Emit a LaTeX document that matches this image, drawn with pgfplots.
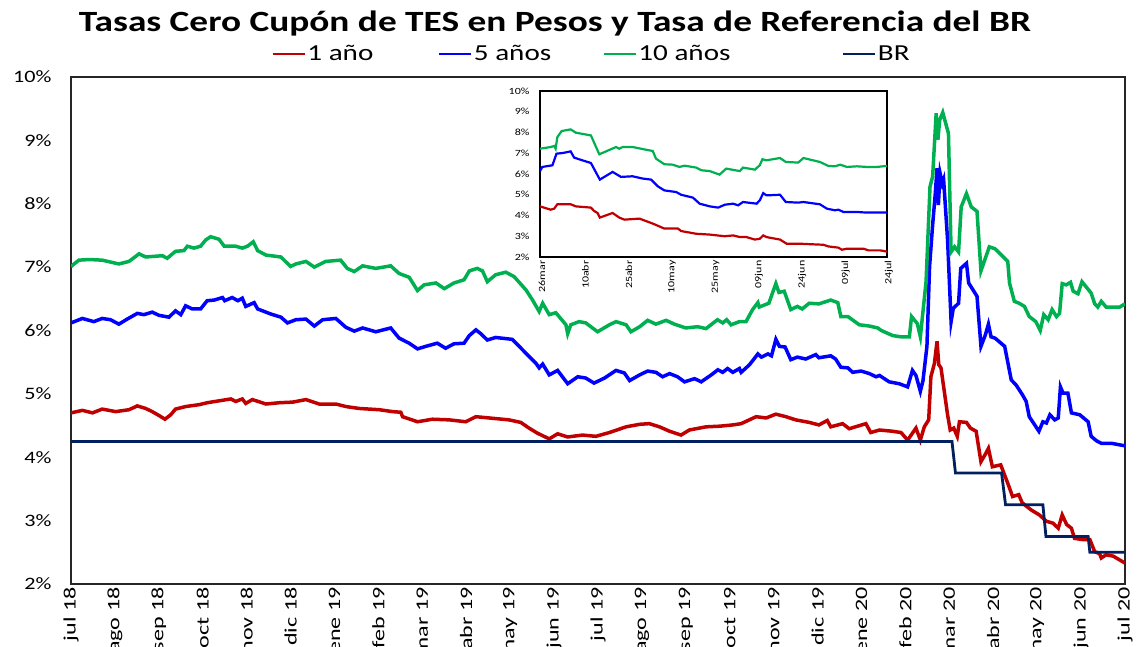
\documentclass[border=0pt]{standalone}
\usepackage{fontspec}
\setmainfont{Carlito}[FakeStretch=1.27]
\newfontfamily\xtickfont{Carlito}[FakeStretch=1.38]
\usepackage{pgfplots}
\pgfplotsset{compat=1.18}
\definecolor{cred}{RGB}{192,0,0}
\definecolor{cblue}{RGB}{0,0,255}
\definecolor{cgreen}{RGB}{0,176,80}
\definecolor{cnavy}{RGB}{0,32,96}
\begin{document}
\begin{tikzpicture}
\path (0bp,0bp) rectangle (1144bp,647bp);
\node[font=\bfseries\fontsize{29.5}{32}\selectfont, anchor=base, inner sep=0pt] at (555bp,615bp) {Tasas Cero Cupón de TES en Pesos y Tasa de Referencia del BR};
\begin{axis}[
  at={(71bp,63bp)}, anchor=south west,
  width=1054bp, height=507bp, scale only axis,
  xmin=0, xmax=24, ymin=2, ymax=10,
  xtick={0,...,24},
  xticklabels={jul 18,ago 18,sep 18,oct 18,nov 18,dic 18,ene 19,feb 19,mar 19,abr 19,may 19,jun 19,jul 19,ago 19,sep 19,oct 19,nov 19,dic 19,ene 20,feb 20,mar 20,abr 20,may 20,jun 20,jul 20},
  ytick={2,...,10},
  yticklabel={\pgfmathprintnumber{\tick}\%},
  /pgf/number format/assume math mode=true,
  tick style={draw=none},
  axis line style={black!85, line width=1.3bp},
  ticklabel style={font=\fontsize{17.5}{20}\selectfont},
  xticklabel style={rotate=90, anchor=east, overlay, font=\xtickfont\fontsize{17.5}{20}\selectfont},
  yticklabel style={xshift=-16bp},
  legend columns=4,
  legend style={at={(axis description cs:0.190,1.0454)}, anchor=west, draw=none, fill=none, inner sep=0pt,
    font=\fontsize{23}{26}\selectfont, nodes={inner sep=1.5bp},
    /tikz/every even column/.append style={column sep=0bp}},
  legend image code/.code={\draw[#1, line width=2.5bp] (0bp,0bp) -- (32bp,0bp);},
]
\addplot[cred, line width=3.5bp] table {
0 4.70
0.26 4.74
0.49 4.70
0.71 4.76
1.02 4.72
1.32 4.75
1.51 4.81
1.70 4.77
1.85 4.72
2.00 4.66
2.14 4.60
2.27 4.67
2.38 4.76
2.61 4.80
2.92 4.83
3.10 4.86
3.37 4.89
3.64 4.92
3.75 4.88
3.90 4.92
3.98 4.85
4.13 4.91
4.44 4.84
4.74 4.86
5.05 4.87
5.35 4.91
5.65 4.84
6.03 4.84
6.26 4.80
6.56 4.77
7.02 4.75
7.32 4.72
7.51 4.71
7.55 4.64
7.89 4.56
8.23 4.60
8.61 4.59
8.99 4.56
9.22 4.64
9.52 4.62
9.97 4.59
10.24 4.55
10.43 4.46
10.62 4.38
10.89 4.29
11.08 4.37
11.31 4.32
11.65 4.35
11.95 4.33
12.26 4.39
12.64 4.48
12.95 4.52
13.17 4.53
13.40 4.48
13.63 4.41
13.89 4.35
14.08 4.43
14.46 4.48
14.77 4.49
15.07 4.51
15.26 4.53
15.60 4.64
15.83 4.62
16.05 4.68
16.28 4.64
16.50 4.59
16.81 4.55
17.03 4.51
17.22 4.58
17.30 4.48
17.57 4.53
17.72 4.45
18.10 4.53
18.21 4.39
18.41 4.43
18.71 4.41
18.90 4.39
19.05 4.27
19.24 4.46
19.34 4.27
19.43 4.48
19.53 4.59
19.58 5.27
19.66 5.48
19.72 5.83
19.76 5.46
19.81 5.41
19.96 4.67
20.02 4.43
20.10 4.46
20.18 4.33
20.23 4.56
20.39 4.55
20.48 4.46
20.61 4.41
20.72 3.93
20.83 4.06
20.89 4.14
20.98 3.85
21.17 3.88
21.33 3.59
21.44 3.38
21.58 3.41
21.66 3.28
21.86 3.17
22.05 3.09
22.21 2.99
22.36 2.96
22.48 2.88
22.57 3.09
22.67 2.94
22.78 2.88
22.85 2.72
23.05 2.70
23.20 2.70
23.31 2.51
23.42 2.48
23.46 2.41
23.57 2.46
23.73 2.44
24.00 2.33
};
\addlegendentry{\makebox[129bp][l]{1 año}}
\addplot[cblue, line width=3.5bp] table {
0 6.12
0.26 6.19
0.52 6.14
0.71 6.19
0.90 6.17
1.09 6.10
1.28 6.18
1.51 6.27
1.66 6.25
1.85 6.29
2.00 6.24
2.23 6.21
2.38 6.31
2.50 6.25
2.61 6.39
2.76 6.34
2.95 6.34
3.10 6.47
3.26 6.48
3.45 6.52
3.50 6.47
3.67 6.52
3.80 6.47
3.90 6.51
3.98 6.38
4.17 6.44
4.25 6.34
4.55 6.26
4.78 6.21
4.93 6.12
5.12 6.17
5.35 6.18
5.54 6.07
5.73 6.17
6.03 6.19
6.26 6.05
6.45 5.99
6.64 6.04
6.94 5.98
7.28 6.04
7.47 5.88
7.70 5.80
7.89 5.71
8.08 5.75
8.34 5.80
8.53 5.72
8.72 5.79
8.95 5.80
9.07 5.92
9.22 6.01
9.33 5.95
9.48 5.85
9.67 5.89
10.05 5.86
10.36 5.64
10.59 5.48
10.66 5.41
10.74 5.47
10.89 5.30
11.08 5.37
11.31 5.16
11.54 5.27
11.72 5.25
11.91 5.17
12.15 5.25
12.41 5.37
12.60 5.33
12.72 5.21
12.95 5.30
13.13 5.36
13.32 5.34
13.47 5.27
13.63 5.32
13.81 5.27
13.97 5.19
14.20 5.24
14.35 5.19
14.58 5.30
14.73 5.38
14.84 5.34
14.95 5.40
15.07 5.34
15.22 5.40
15.26 5.34
15.45 5.46
15.64 5.63
15.72 5.58
15.87 5.63
15.95 5.60
16.05 5.86
16.13 5.75
16.26 5.74
16.39 5.54
16.54 5.58
16.73 5.55
16.96 5.62
17.03 5.57
17.30 5.60
17.41 5.55
17.53 5.42
17.69 5.41
17.80 5.34
17.99 5.36
18.18 5.32
18.33 5.27
18.41 5.29
18.63 5.19
18.86 5.16
19.05 5.11
19.16 5.37
19.24 5.29
19.34 5.04
19.40 5.21
19.49 5.75
19.55 7.01
19.62 7.67
19.68 8.16
19.72 8.56
19.75 7.98
19.79 8.48
19.84 8.32
19.87 8.38
19.96 7.43
20.04 6.14
20.09 6.35
20.21 6.43
20.26 6.98
20.39 7.06
20.44 6.75
20.63 6.54
20.72 5.75
20.82 5.93
20.89 6.10
20.95 5.90
21.04 5.88
21.26 5.75
21.41 5.22
21.52 5.14
21.67 4.98
21.75 4.88
21.82 4.64
22.04 4.41
22.13 4.56
22.21 4.54
22.29 4.67
22.40 4.59
22.48 4.62
22.53 5.11
22.59 5.01
22.70 5.01
22.78 4.70
22.97 4.67
23.16 4.56
23.23 4.33
23.35 4.26
23.46 4.22
23.69 4.22
24.00 4.18
};
\addlegendentry{\makebox[127bp][l]{5 años}}
\addplot[cgreen, line width=3.5bp] table {
0 7.01
0.18 7.11
0.41 7.12
0.71 7.11
1.09 7.05
1.32 7.09
1.55 7.21
1.70 7.16
2.08 7.18
2.19 7.14
2.38 7.25
2.57 7.26
2.65 7.33
2.80 7.30
2.95 7.33
3.07 7.43
3.18 7.48
3.37 7.44
3.49 7.33
3.75 7.33
3.90 7.30
4.02 7.33
4.15 7.40
4.25 7.26
4.44 7.19
4.78 7.16
5.00 7.01
5.12 7.05
5.35 7.09
5.54 7.00
5.80 7.09
6.14 7.11
6.29 6.98
6.45 6.93
6.64 7.02
6.94 6.98
7.28 7.02
7.47 6.90
7.70 6.84
7.89 6.63
8.04 6.72
8.31 6.75
8.50 6.66
8.72 6.75
8.95 6.80
9.07 6.94
9.25 6.98
9.37 6.94
9.48 6.77
9.67 6.88
9.90 6.92
10.09 6.85
10.36 6.64
10.51 6.48
10.66 6.30
10.74 6.43
10.89 6.25
11.04 6.28
11.27 6.09
11.31 5.95
11.38 6.09
11.57 6.14
11.72 6.12
11.99 5.98
12.26 6.09
12.41 6.14
12.64 6.09
12.75 5.98
12.95 6.06
13.13 6.16
13.32 6.10
13.55 6.16
13.74 6.10
14.00 6.04
14.27 6.06
14.46 6.03
14.72 6.17
14.84 6.12
14.93 6.17
15.03 6.09
15.22 6.14
15.37 6.14
15.52 6.33
15.64 6.44
15.67 6.37
15.89 6.43
16.05 6.74
16.12 6.60
16.24 6.62
16.39 6.33
16.54 6.38
16.65 6.34
16.81 6.43
17.03 6.42
17.30 6.48
17.46 6.44
17.53 6.22
17.69 6.22
17.95 6.09
18.18 6.07
18.37 6.04
18.45 6.00
18.71 5.92
18.90 5.90
19.09 5.90
19.14 6.22
19.27 6.11
19.34 5.90
19.47 6.77
19.56 8.27
19.62 8.43
19.70 9.43
19.74 9.01
19.78 9.32
19.85 9.44
19.98 9.11
20.04 7.24
20.12 7.32
20.21 7.24
20.27 7.95
20.39 8.16
20.50 7.95
20.63 7.88
20.72 6.94
20.91 7.32
21.04 7.29
21.33 7.09
21.37 6.75
21.48 6.46
21.59 6.43
21.71 6.38
21.82 6.22
21.97 6.14
22.07 6.00
22.15 6.25
22.25 6.17
22.34 6.33
22.44 6.22
22.51 6.27
22.57 6.74
22.66 6.72
22.76 6.76
22.82 6.62
22.93 6.58
23.02 6.77
23.23 6.59
23.31 6.42
23.38 6.37
23.46 6.46
23.57 6.37
23.88 6.37
24.00 6.42
};
\addlegendentry{\makebox[202bp][l]{10 años}}
\addplot[cnavy, line width=2.8bp] table {
0 4.25
20.06 4.25
20.14 3.75
21.19 3.75
21.28 3.25
22.13 3.25
22.20 2.75
23.16 2.75
23.20 2.50
24.00 2.50
};
\addlegendentry{BR}
\end{axis}
\begin{axis}[
  at={(540bp,390bp)}, anchor=south west,
  width=347bp, height=166bp, scale only axis,
  xmin=0, xmax=120, ymin=2, ymax=10,
  xtick={0,15,...,120},
  xticklabels={26mar,10abr,25abr,10may,25may,09jun,24jun,09jul,24jul},
  ytick={2,...,10},
  yticklabel={\pgfmathprintnumber{\tick}\%},
  /pgf/number format/assume math mode=true,
  tick style={draw=none},
  axis background/.style={fill=white},
  axis line style={black, line width=1.2bp},
  ticklabel style={font=\fontsize{9.5}{11}\selectfont},
  xticklabel style={rotate=90, anchor=east, yshift=-2bp},
  yticklabel style={xshift=-7bp},
]
\addplot[cred, line width=2.2bp] table {
0 4.44
3.7 4.28
4.9 4.33
6.0 4.54
10.6 4.54
12.4 4.44
17.6 4.38
18.7 4.22
19.9 4.12
20.7 3.90
25.1 4.12
27.4 3.90
29.2 3.80
34.4 3.85
39.0 3.61
43.0 3.37
47.7 3.37
48.8 3.25
54.0 3.12
58.7 3.08
63.9 3.00
66.8 3.04
69.1 2.96
71.4 2.96
74.3 2.84
76.0 2.88
77.2 3.04
78.3 2.96
83.0 2.84
85.3 2.64
89.9 2.64
94.5 2.61
98.0 2.59
99.7 2.51
103.2 2.45
104.4 2.35
106.1 2.40
111.9 2.40
113.6 2.32
117.6 2.32
120 2.26
};
\addplot[cblue, line width=2.2bp] table {
0 6.14
0.8 6.34
4.3 6.42
5.7 6.98
7.8 7.01
10.6 7.09
11.8 6.79
13.5 6.71
17.6 6.53
20.7 5.73
25.1 6.10
28.0 5.86
32.0 5.89
35.5 5.78
38.4 5.73
40.7 5.41
43.0 5.21
47.1 5.13
48.8 5.00
52.9 4.86
55.2 4.57
58.7 4.44
61.6 4.38
63.9 4.52
66.8 4.57
68.5 4.49
70.2 4.65
74.9 4.57
76.0 4.73
77.2 5.08
78.3 4.97
83.0 5.00
85.0 4.65
89.3 4.62
91.1 4.65
96.8 4.54
99.2 4.33
102.0 4.25
103.2 4.28
104.9 4.17
109.6 4.17
113.0 4.14
120 4.14
};
\addplot[cgreen, line width=2.2bp] table {
0 7.22
3.7 7.30
4.9 7.35
5.4 7.22
6.0 7.78
7.5 8.07
10.6 8.15
12.4 7.99
17.6 7.86
20.5 6.95
26.3 7.30
27.4 7.22
28.6 7.30
32.0 7.30
37.8 7.14
39.0 7.11
40.1 6.74
43.0 6.47
45.9 6.45
48.2 6.34
50.0 6.40
54.0 6.31
55.8 6.18
58.7 6.14
62.1 5.97
64.4 6.26
69.1 6.14
70.2 6.31
74.3 6.21
76.0 6.42
76.9 6.71
78.3 6.66
83.0 6.77
85.0 6.58
89.3 6.55
91.1 6.77
96.8 6.58
99.7 6.39
102.0 6.37
103.8 6.45
106.1 6.34
109.6 6.37
113.0 6.34
116.5 6.34
120 6.39
};
\end{axis}
\end{tikzpicture}
\end{document}
